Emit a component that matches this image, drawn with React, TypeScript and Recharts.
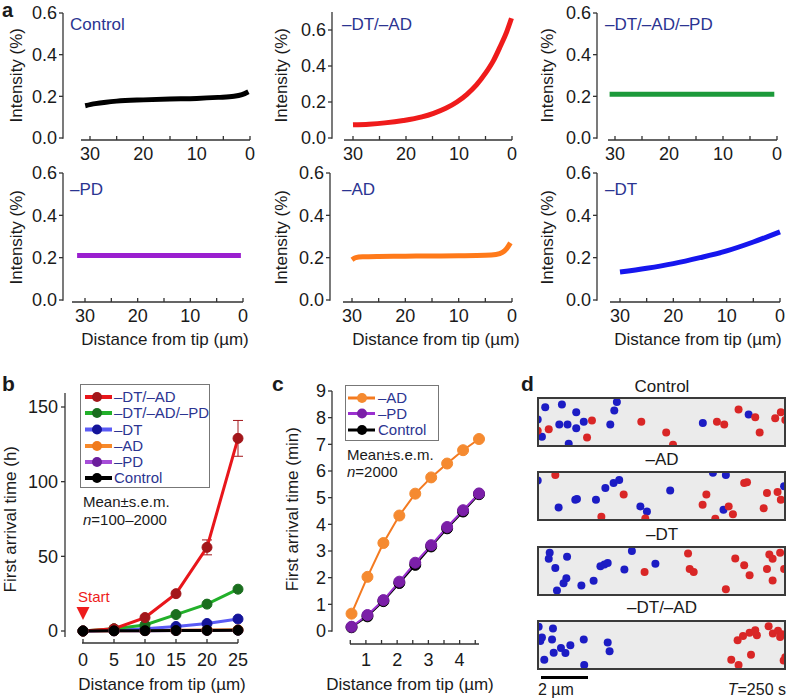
import React from 'react';
import { LineChart, Line, XAxis, YAxis, ScatterChart, Scatter, ErrorBar, ReferenceDot } from 'recharts';

const FONT = '"Liberation Sans", Arial, Helvetica, sans-serif';
const AXIS = '#333333';
const TEXT = '#1a1a1a';
const NAVY = '#2b3491';
const TICK_FS = 18;

// ---------------- Panel a data ----------------
const controlDist = [30.9, 29, 27, 25, 20, 15, 10, 6, 3, 1.5, 0.3];
const controlInt = [0.155, 0.165, 0.172, 0.177, 0.183, 0.187, 0.19, 0.195, 0.2, 0.208, 0.222];
const dtadDist = [30, 27, 24, 20.5, 17, 14.8, 12.5, 10.4, 8.5, 6.7, 5, 3.5, 2.2, 1, 0.1];
const dtadInt = [0.073, 0.077, 0.084, 0.097, 0.117, 0.137, 0.165, 0.2, 0.243, 0.295, 0.36, 0.43, 0.51, 0.59, 0.665];
const dtadpdDist = [31, 0.5];
const dtadpdInt = [0.21, 0.21];
const pdDist = [31.5, 0.4];
const pdInt = [0.21, 0.21];
const adDist = [30, 29.3, 28, 25, 20, 15, 10, 5, 3, 1.8, 1, 0.3];
const adInt = [0.19, 0.2, 0.204, 0.206, 0.207, 0.208, 0.209, 0.211, 0.215, 0.225, 0.243, 0.27];
const dtDist = [30, 25, 20, 15, 10, 5, 0];
const dtInt = [0.132, 0.15, 0.172, 0.2, 0.232, 0.274, 0.322];
const aXTicks = [30, 25, 20, 15, 10, 5, 0];
const aYTicks = [0, 0.2, 0.4, 0.6];

// ---------------- Panel b data ----------------
const bDist = [0, 5, 10, 15, 20, 25];
const bDtAd = [0, 1.5, 9, 25, 56, 129];
const bDtAdErr = [0, 0, 0, 0, 5, 12];
const bDtAdPd = [0, 1.5, 4, 11, 18, 28];
const bDt = [0, 0.5, 1.5, 3, 5, 8];
const bAd = [0, 0.2, 0.35, 0.5, 0.65, 0.8];
const bPd = [0, 0.1, 0.25, 0.35, 0.45, 0.55];
const bCtrl = [0, 0.1, 0.2, 0.3, 0.4, 0.5];
const bYTicks = [0, 50, 100, 150];
const bXTicks = [0, 5, 10, 15, 20, 25];

// ---------------- Panel c data ----------------
const cDist = [0.54, 1.05, 1.56, 2.07, 2.58, 3.09, 3.6, 4.11, 4.62];
const cAd = [0.65, 2.03, 3.3, 4.33, 5.15, 5.76, 6.28, 6.78, 7.2];
const cPd = [0.16, 0.6, 1.16, 1.85, 2.56, 3.22, 3.9, 4.53, 5.16];
const cCtrl = [0.14, 0.55, 1.12, 1.8, 2.48, 3.17, 3.85, 4.48, 5.13];
const cYTicks = [0, 1, 2, 3, 4, 5, 6, 7, 8, 9];
const cXTicks = [0.5, 1, 1.5, 2, 2.5, 3, 3.5, 4, 4.5];

// ---------------- Panel d data (x, y in µm) ----------------
const dControlBlue = [[0.35, 1.67], [1.06, 1.79], [3.4, 1.89], [3.29, 1.53], [1.67, 1.46], [0.03, 1.15], [1.99, 1.06], [0.95, 0.94], [1.3, 0.94], [1.67, 0.79], [3.12, 0.94], [0.21, 0.43], [1.35, 0.14], [7.06, 1.01], [9.01, 1.36]];
const dControlRed = [[2.34, 1.11], [0.5, 0.75], [0.03, 0.68], [2.13, 0.4], [4.44, 1.06], [5.5, 0.61], [5.79, 0.09], [7.66, 1.06], [7.97, 0.94], [8.58, 1.57], [9.29, 1.25], [9.48, 0.61], [10.14, 1.21], [10.38, 1.46], [10.57, 1.13]];
const dAdBlue = [[0.03, 1.7], [0.92, 0.57], [1.63, 0.89], [1.7, 0.92], [2.51, 0.89], [2.91, 1.39], [3.26, 1.6], [3.5, 1.72], [4.4, 0.61], [4.68, 0.4], [5.67, 1.28], [7.49, 2.03], [8.04, 1.93], [7.94, 0.47], [10.52, 1.46]];
const dAdRed = [[0.78, 1.93], [3.69, 1.11], [2.74, 0.18], [4.61, 0.11], [7.21, 1.11], [7.05, 0.68], [7.59, 0.09], [8.16, 0.61], [8.34, 0.28], [8.82, 1.6], [8.94, 1.63], [9.79, 1.18], [10.24, 1.22], [10.38, 0.89], [9.65, 0.54]];
const dDtBlue = [[0.54, 1.82], [0.5, 1.56], [1.28, 1.65], [0.78, 1.18], [1.25, 0.75], [1.13, 0.54], [0.85, 0.23], [1.89, 0.44], [2.41, 0.64], [2.7, 1.25], [2.87, 1.32], [3.01, 1.39], [3.72, 1.11], [4.04, 1.89], [5.04, 1.35]];
const dDtRed = [[4.58, 1.01], [6.43, 1.79], [6.5, 1.13], [6.67, 1.01], [8.44, 1.57], [8.82, 1.29], [9.05, 0.87], [9.89, 1.74], [10.03, 1.56], [10.35, 1.82], [9.79, 1.13], [10.03, 0.65], [10.52, 1.13], [8.04, 0.28]];
const dDtAdBlue = [[0.07, 1.82], [0.68, 1.74], [0.21, 1.36], [0.14, 1.22], [0.64, 1.28], [1.42, 1.04], [1.02, 0.92], [0.71, 0.72], [1.21, 0.71], [1.99, 1.28], [3.01, 1.15], [3.09, 0.79], [0.31, 0.43], [2.01, 0.21]];
const dDtAdRed = [[8.54, 1.25], [8.77, 1.43], [9.05, 1.56], [9.29, 1.67], [9.36, 1.46], [9.86, 1.84], [10.04, 1.53], [10.26, 1.65], [10.35, 1.39], [10.43, 1.5], [9.11, 0.64], [8.27, 0.43], [8.58, 0.21], [10.5, 0.4], [10.57, 0.54]];

// ---------------- helpers ----------------
const rows = (xs: number[], ys: number[]) => xs.map((x, i) => ({ d: x, v: ys[i] }));
const pts = (arr: number[][]) => arr.map(([x, y]) => ({ x, y }));

const makeXTick = (isMajor: (v: number) => boolean, labelDy: number, fontSize: number, tickLen: number) =>
  (props: any) => {
    const { x, y, payload } = props;
    const v = payload.value;
    return (
      <g>
        <line x1={x} x2={x} y1={y} y2={y - tickLen} stroke={AXIS} strokeWidth={1.3} />
        {isMajor(v) ? (
          <text x={x} y={y + labelDy} textAnchor="middle" fontSize={fontSize} fill={TEXT} fontFamily={FONT}>
            {String(v)}
          </text>
        ) : null}
      </g>
    );
  };

function Txt({ x, y, s = 17, a = 'start', c = TEXT, b = false, children }: any) {
  const w = 400;
  const left = a === 'start' ? x : a === 'middle' ? x - w / 2 : x - w;
  return (
    <div
      style={{
        position: 'absolute', left, top: y - s * 0.6, width: w, height: s * 1.2, lineHeight: `${s * 1.2}px`,
        fontSize: s, color: c, fontWeight: b ? 'bold' : 'normal', whiteSpace: 'nowrap', fontFamily: FONT,
        textAlign: a === 'start' ? 'left' : a === 'middle' ? 'center' : 'right', pointerEvents: 'none',
      }}
    >
      {children}
    </div>
  );
}

function VTxt({ x, y, s = 17, children }: any) {
  const w = 300;
  return (
    <div
      style={{
        position: 'absolute', left: x - w / 2, top: y - s * 0.6, width: w, height: s * 1.2, lineHeight: `${s * 1.2}px`,
        fontSize: s, color: TEXT, whiteSpace: 'nowrap', fontFamily: FONT, textAlign: 'center',
        transform: 'rotate(-90deg)', pointerEvents: 'none',
      }}
    >
      {children}
    </div>
  );
}

// ---------------- Panel a ----------------
type APanel = {
  label: string; color: string; dist: number[]; inten: number[];
  axisX: number; x30: number; x0: number; yTopPx: number; yTopVal: number; y0px: number; lineY: number; axisStart: number;
  labelX: number; labelY: number; titleX: number; titleY: number; xTitleX?: number;
};

const aPanels: APanel[] = [
  { label: 'Control', color: '#000000', dist: controlDist, inten: controlInt, axisX: 63, x30: 90, x0: 250, yTopPx: 13, yTopVal: 0.6, y0px: 138, lineY: 140, axisStart: 81, labelX: 70, labelY: 25, titleX: 17, titleY: 75 },
  { label: '–DT/–AD', color: '#ef1b1b', dist: dtadDist, inten: dtadInt, axisX: 332, x30: 353, x0: 512, yTopPx: 12, yTopVal: 0.7, y0px: 138, lineY: 140, axisStart: 344, labelX: 342, labelY: 25, titleX: 282, titleY: 75 },
  { label: '–DT/–AD/–PD', color: '#1c9a3a', dist: dtadpdDist, inten: dtadpdInt, axisX: 597, x30: 615, x0: 777, yTopPx: 13, yTopVal: 0.6, y0px: 138, lineY: 140, axisStart: 608, labelX: 605, labelY: 25, titleX: 548, titleY: 75 },
  { label: '–PD', color: '#9a1fcf', dist: pdDist, inten: pdInt, axisX: 63, x30: 85, x0: 243, yTopPx: 173, yTopVal: 0.6, y0px: 300, lineY: 302, axisStart: 72, labelX: 70, labelY: 190, titleX: 17, titleY: 237, xTitleX: 165 },
  { label: '–AD', color: '#ff7a1a', dist: adDist, inten: adInt, axisX: 330, x30: 352, x0: 512, yTopPx: 173, yTopVal: 0.6, y0px: 300, lineY: 302, axisStart: 343, labelX: 342, labelY: 190, titleX: 282, titleY: 237, xTitleX: 436 },
  { label: '–DT', color: '#1616ee', dist: dtDist, inten: dtInt, axisX: 597, x30: 620, x0: 780, yTopPx: 173, yTopVal: 0.6, y0px: 300, lineY: 302, axisStart: 610, labelX: 605, labelY: 190, titleX: 548, titleY: 237, xTitleX: 698 },
];

function IntensityChart({ p }: { p: APanel }) {
  const Yw = 46;
  const ppu = (p.x0 - p.x30) / 30;
  const xMax = (p.x0 - p.axisX) / ppu;
  const yppu = (p.y0px - p.yTopPx) / p.yTopVal;
  const yMin = -(p.lineY - p.y0px) / yppu;
  const left = p.axisX - Yw;
  const top = p.yTopPx - 10;
  const mr = 8;
  const width = p.x0 + mr - left;
  const Xh = 30;
  const height = p.lineY - top + Xh;
  const data = rows(p.dist, p.inten);
  return (
    <div style={{ position: 'absolute', left, top, width, height }}>
      <LineChart width={width} height={height} data={data} margin={{ top: 10, right: mr, bottom: 0, left: 0 }}>
        <XAxis
          dataKey="d" type="number" domain={[0, xMax]} reversed ticks={aXTicks} interval={0}
          tickSize={0} tickMargin={0} tickLine={false} height={Xh}
          axisLine={{ stroke: AXIS, strokeWidth: 1.3, strokeDasharray: `0 ${p.axisStart - p.axisX} 2000` }}
          tick={makeXTick((v) => v % 10 === 0, 20, TICK_FS, 4)}
        />
        <YAxis
          type="number" domain={[yMin, p.yTopVal]} ticks={aYTicks} interval={0} width={Yw}
          tickSize={4} tickMargin={2} tickFormatter={(v: number) => v.toFixed(1)}
          tick={{ fontSize: TICK_FS, fill: TEXT, fontFamily: FONT }}
          tickLine={{ stroke: AXIS, strokeWidth: 1.3 }}
          axisLine={{ stroke: AXIS, strokeWidth: 1.3, strokeDasharray: `${p.y0px - p.yTopPx + 0.7} 2000` }}
        />
        <Line dataKey="v" type="monotone" stroke={p.color} strokeWidth={5} dot={false} isAnimationActive={false} />
      </LineChart>
    </div>
  );
}

// ---------------- Legends ----------------
type LegItem = { name: string; line: string; marker: string };
const bLegend: LegItem[] = [
  { name: '–DT/–AD', line: '#e8161b', marker: '#a3161a' },
  { name: '–DT/–AD/–PD', line: '#22b02a', marker: '#1a6e1e' },
  { name: '–DT', line: '#5b5bf5', marker: '#14149a' },
  { name: '–AD', line: '#f7892a', marker: '#f07a1c' },
  { name: '–PD', line: '#a64dd8', marker: '#6b1d9c' },
  { name: 'Control', line: '#000000', marker: '#000000' },
];
const cLegend: LegItem[] = [
  { name: '–AD', line: '#f47a20', marker: '#f58a30' },
  { name: '–PD', line: '#9b30d0', marker: '#7b1fa8' },
  { name: 'Control', line: '#000000', marker: '#000000' },
];

function LegendBox({ left, top, width, height, items, rowYs, lx0, lx1, mx, tx, lw }: any) {
  return (
    <svg style={{ position: 'absolute', left, top }} width={width} height={height}>
      <rect x={0.5} y={0.5} width={width - 1} height={height - 1} fill="#fff" stroke="#777" strokeWidth={1} />
      {items.map((it: LegItem, i: number) => (
        <g key={it.name}>
          <line x1={lx0} x2={lx1} y1={rowYs[i]} y2={rowYs[i]} stroke={it.line} strokeWidth={lw} />
          <circle cx={mx} cy={rowYs[i]} r={5} fill={it.marker} />
          <text x={tx} y={rowYs[i] + 5.3} fontSize={15} fill={NAVY} fontFamily={FONT}>{it.name}</text>
        </g>
      ))}
    </svg>
  );
}

// ---------------- Panel b ----------------
function PanelB() {
  const axisX = 65, plotTop = 393, lineY = 643, y0px = 631, y150 = 407;
  const yppu = (y0px - y150) / 150;
  const yTop = 150 + (y150 - plotTop) / yppu;
  const yMin = -(lineY - y0px) / yppu;
  const x0px = 83, x25 = 238;
  const xppu = (x25 - x0px) / 25;
  const xMin = -(x0px - axisX) / xppu;
  const Yw = 46;
  const left = axisX - Yw, top = plotTop - 10, mr = 12;
  const width = x25 + mr - left;
  const Xh = 30;
  const height = lineY - top + Xh;
  const data = bDist.map((d, i) => ({
    d, dtad: bDtAd[i], err: bDtAdErr[i], dtadpd: bDtAdPd[i], dt: bDt[i], ad: bAd[i], pd: bPd[i], ctrl: bCtrl[i],
  }));
  const series = [
    { key: 'pd', leg: bLegend[4] },
    { key: 'ad', leg: bLegend[3] },
    { key: 'dt', leg: bLegend[2] },
    { key: 'dtadpd', leg: bLegend[1] },
    { key: 'dtad', leg: bLegend[0] },
    { key: 'ctrl', leg: bLegend[5] },
  ];
  return (
    <div style={{ position: 'absolute', left, top, width, height }}>
      <LineChart width={width} height={height} data={data} margin={{ top: 10, right: mr, bottom: 0, left: 0 }}>
        <XAxis
          dataKey="d" type="number" domain={[xMin, 25]} ticks={bXTicks} interval={0}
          tickSize={0} tickMargin={0} tickLine={false} height={Xh}
          axisLine={{ stroke: AXIS, strokeWidth: 1.3, strokeDasharray: `0 ${82 - axisX} 2000` }}
          tick={makeXTick(() => true, 23, TICK_FS, 4)}
        />
        <YAxis
          type="number" domain={[yMin, yTop]} ticks={bYTicks} interval={0} width={Yw}
          tickSize={4} tickMargin={3}
          tick={{ fontSize: TICK_FS, fill: TEXT, fontFamily: FONT }}
          tickLine={{ stroke: AXIS, strokeWidth: 1.3 }}
          axisLine={{ stroke: AXIS, strokeWidth: 1.3, strokeDasharray: `${637 - plotTop} 2000` }}
        />
        {series.map((s) => (
          <Line
            key={s.key} dataKey={s.key} type="linear" stroke={s.leg.line} strokeWidth={3}
            dot={{ r: 5, fill: s.leg.marker, stroke: s.leg.marker, strokeWidth: 1 }}
            isAnimationActive={false}
          >
            {s.key === 'dtad' ? <ErrorBar dataKey="err" width={5} stroke="#a3161a" strokeWidth={1} direction="y" /> : null}
          </Line>
        ))}
        <ReferenceDot
          x={0} y={12} r={6}
          shape={(p: any) => (
            <g>
              <path d={`M${p.cx - 6.5},${p.cy - 6} L${p.cx + 6.5},${p.cy - 6} L${p.cx},${p.cy + 7} Z`} fill="#ee1c1c" />
              <text x={p.cx - 5} y={p.cy - 11} fontSize={15} fill="#ee1c1c" fontFamily={FONT}>Start</text>
            </g>
          )}
        />
      </LineChart>
    </div>
  );
}

// ---------------- Panel c ----------------
function PanelC() {
  const axisX = 332, plotTop = 391, lineY = 644, y0px = 631;
  const yppu = (y0px - plotTop) / 9;
  const yMin = -(lineY - y0px) / yppu;
  const x1px = 366, x4px = 460;
  const xppu = (x4px - x1px) / 3;
  const xMin = 1 - (x1px - axisX) / xppu;
  const plotRight = 479;
  const xMax = 4 + (plotRight - x4px) / xppu;
  const Yw = 30;
  const left = axisX - Yw, top = plotTop - 10, mr = 10;
  const width = plotRight + mr - left;
  const Xh = 30;
  const height = lineY - top + Xh;
  const data = cDist.map((d, i) => ({ d, ad: cAd[i], pd: cPd[i], ctrl: cCtrl[i] }));
  const series = [
    { key: 'ctrl', leg: cLegend[2] },
    { key: 'pd', leg: cLegend[1] },
    { key: 'ad', leg: cLegend[0] },
  ];
  return (
    <div style={{ position: 'absolute', left, top, width, height }}>
      <LineChart width={width} height={height} data={data} margin={{ top: 10, right: mr, bottom: 0, left: 0 }}>
        <XAxis
          dataKey="d" type="number" domain={[xMin, xMax]} ticks={cXTicks} interval={0}
          tickSize={0} tickMargin={0} tickLine={false} height={Xh}
          axisLine={{ stroke: AXIS, strokeWidth: 1.3, strokeDasharray: `0 ${350 - axisX} 2000` }}
          tick={makeXTick((v) => Math.abs(v - Math.round(v)) < 1e-6, 22, TICK_FS, 4)}
        />
        <YAxis
          type="number" domain={[yMin, 9]} ticks={cYTicks} interval={0} width={Yw}
          tickSize={4} tickMargin={2}
          tick={{ fontSize: TICK_FS, fill: TEXT, fontFamily: FONT }}
          tickLine={{ stroke: AXIS, strokeWidth: 1.3 }}
          axisLine={{ stroke: AXIS, strokeWidth: 1.3, strokeDasharray: `${y0px - plotTop + 0.7} 2000` }}
        />
        {series.map((s) => (
          <Line
            key={s.key} dataKey={s.key} type="linear" stroke={s.leg.line} strokeWidth={2}
            dot={{ r: 5.5, fill: s.leg.marker, stroke: s.leg.marker, strokeWidth: 1 }}
            isAnimationActive={false}
          />
        ))}
      </LineChart>
    </div>
  );
}

// ---------------- Panel d ----------------
const dotShape = (color: string) => (p: any) => <circle cx={p.cx} cy={p.cy} r={4} fill={color} />;

function DotBox({ top, blue, red }: { top: number; blue: number[][]; red: number[][] }) {
  const W = 249, H = 50;
  return (
    <div style={{ position: 'absolute', left: 537, top, width: W, height: H, background: '#ebebeb', overflow: 'hidden' }}>
      <ScatterChart width={W} height={H} margin={{ top: 0, right: 0, bottom: 0, left: 0 }}>
        <XAxis type="number" dataKey="x" domain={[0, 10.6]} hide />
        <YAxis type="number" dataKey="y" domain={[0, 2.1]} hide />
        <Scatter data={pts(blue)} fill="#1c1cc4" shape={dotShape('#1c1cc4')} isAnimationActive={false} />
        <Scatter data={pts(red)} fill="#d92626" shape={dotShape('#d92626')} isAnimationActive={false} />
      </ScatterChart>
      <div style={{ position: 'absolute', left: 0, top: 0, width: W, height: H, border: '2px solid #3a3a3a', boxSizing: 'border-box' }} />
    </div>
  );
}

const dBoxes = [
  { title: 'Control', titleY: 387, top: 397, blue: dControlBlue, red: dControlRed },
  { title: '–AD', titleY: 460, top: 471, blue: dAdBlue, red: dAdRed },
  { title: '–DT', titleY: 535, top: 546, blue: dDtBlue, red: dDtRed },
  { title: '–DT/–AD', titleY: 608, top: 620, blue: dDtAdBlue, red: dDtAdRed },
];

export default function App() {
  return (
    <div style={{ position: 'absolute', left: 0, top: 0, width: 788, height: 699, background: '#fff', fontFamily: FONT, overflow: 'hidden' }}>
      {/* Panel a */}
      <div style={{ position: 'absolute', left: 2, top: 0, fontSize: 20, lineHeight: '20px', fontWeight: 'bold', color: TEXT, fontFamily: FONT }}>a</div>
      {aPanels.map((p) => (
        <React.Fragment key={p.label}>
          <IntensityChart p={p} />
          <Txt x={p.labelX} y={p.labelY} s={17} c={NAVY}>{p.label}</Txt>
          <VTxt x={p.titleX} y={p.titleY} s={17}>Intensity (%)</VTxt>
          {p.xTitleX ? <Txt x={p.xTitleX} y={340} s={17} a="middle">Distance from tip (µm)</Txt> : null}
        </React.Fragment>
      ))}

      {/* Panel b */}
      <Txt x={2} y={384} s={21} b>b</Txt>
      <PanelB />
      <LegendBox left={80} top={384} width={130} height={104} items={bLegend} rowYs={[13, 29, 45.5, 62, 78, 94]} lx0={5} lx1={32} mx={17} tx={34} lw={4} />
      <Txt x={83} y={502} s={15}>Mean±s.e.m.</Txt>
      <Txt x={83} y={520} s={15}><i>n</i>=100–2000</Txt>
      <VTxt x={11} y={519} s={17}>First arrival time (h)</VTxt>
      <Txt x={162} y={685} s={17} a="middle">Distance from tip (µm)</Txt>

      {/* Panel c */}
      <Txt x={272} y={384} s={21} b>c</Txt>
      <PanelC />
      <LegendBox left={345} top={385} width={94} height={56} items={cLegend} rowYs={[13, 28.5, 45]} lx0={3} lx1={30} mx={17} tx={33} lw={3} />
      <Txt x={347} y={455} s={15}>Mean±s.e.m.</Txt>
      <Txt x={347} y={472} s={15}><i>n</i>=2000</Txt>
      <VTxt x={293} y={509} s={17}>First arrival time (min)</VTxt>
      <Txt x={410} y={685} s={17} a="middle">Distance from tip (µm)</Txt>

      {/* Panel d */}
      <Txt x={521} y={384} s={21} b>d</Txt>
      {dBoxes.map((b) => (
        <React.Fragment key={b.title}>
          <Txt x={662} y={b.titleY} s={17} a="middle">{b.title}</Txt>
          <DotBox top={b.top} blue={b.blue} red={b.red} />
        </React.Fragment>
      ))}
      <div style={{ position: 'absolute', left: 541, top: 676, width: 47, height: 3, background: '#000' }} />
      <Txt x={538} y={690} s={16}>2 µm</Txt>
      <Txt x={786} y={690} s={16} a="end"><i>T</i>=250 s</Txt>
    </div>
  );
}
